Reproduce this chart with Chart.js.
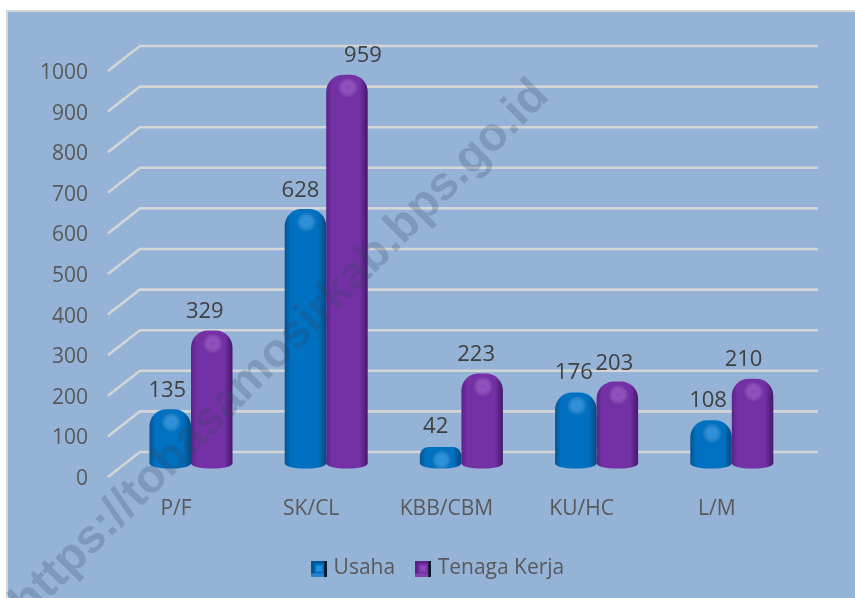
<!DOCTYPE html>
<html><head><meta charset="utf-8">
<script src="https://cdn.jsdelivr.net/npm/chart.js@4"></script>
<style>
html,body{margin:0;padding:0;background:#fff;width:855px;height:598px;overflow:hidden}
#panel{position:absolute;left:6px;top:10px;right:-4px;bottom:-4px;background:#95b3d7;border:2px solid #d4d6d8;box-sizing:border-box}
#c{position:absolute;left:0;top:0}
</style></head><body>
<div id="panel"></div>
<canvas id="c" width="855" height="598"></canvas>
<script>
const categories = ["P/F","SK/CL","KBB/CBM","KU/HC","L/M"];
const usaha = [135,628,42,176,108];
const tenagaKerja = [329,959,223,203,210];
const yTicks = [0,100,200,300,400,500,600,700,800,900,1000];
const watermark = "https://tobasamosirkab.bps.go.id";

const FONT = '"Open Sans"';
const labelNudgeU = [-3,-5,-5,-2,-3];
const labelNudgeT = [-7,16,-6,-3,-9];
const labelRaise = [[18,19],[18,19],[20,19],[20,18],[19,19]];

const palettes = [
  {edgeL:'#05548f',mid:'#0070c0',edgeR:'#044a80',glow:'rgba(70,170,255,0.55)'},
  {edgeL:'#5b2288',mid:'#7431a6',edgeR:'#44186b',glow:'rgba(170,90,215,0.5)'}
];
function barGradient(c, x0, x1, p){
  const g = c.createLinearGradient(x0,0,x1,0);
  g.addColorStop(0,p.edgeL); g.addColorStop(0.14,p.mid);
  g.addColorStop(0.8,p.mid); g.addColorStop(1,p.edgeR);
  return g;
}
function scripted(idx){
  return function(ctx){
    const ch = ctx.chart, xs = ch.scales && ch.scales.x;
    if(!xs || !ch.chartArea) return palettes[idx].mid;
    const cat = xs.width/categories.length, w = cat*0.614/2;
    const cx = xs.getPixelForValue(ctx.dataIndex) + (idx-0.5)*w;
    return barGradient(ch.ctx, cx-w/2, cx+w/2, palettes[idx]);
  };
}
function marker(p){
  const s=16, m=document.createElement('canvas'); m.width=m.height=s;
  const c=m.getContext('2d');
  c.fillStyle=p.edgeL; c.fillRect(0,0,s,s);
  c.fillStyle=p.glow; c.fillRect(0,s-3,s,3);
  c.fillStyle='#0d1a2b'; c.fillRect(s-3,0,3,s);
  c.fillStyle=p.mid; c.fillRect(3,3,s-6,s-6);
  c.fillStyle=p.glow; c.fillRect(5,5,s-10,s-10);
  return m;
}
const wall = {
  id:'wall',
  afterLayout(ch){
    const shift = 40;
    ch.legend.left += shift; ch.legend.right += shift;
  },
  beforeDatasetsDraw(ch){
    const y=ch.scales.y, a=ch.chartArea, c=ch.ctx;
    c.save(); c.strokeStyle='#d3d5d7'; c.lineWidth=2.6; c.lineJoin='miter';
    yTicks.forEach(v=>{
      const p=y.getPixelForValue(v);
      c.beginPath(); c.moveTo(a.left-15.5,p+13); c.lineTo(a.left+16.5,p-12); c.lineTo(a.right+18.5,p-12); c.stroke();
    });
    c.restore();
  }
};
const finish = {
  id:'finish',
  afterDatasetsDraw(ch){
    const c=ch.ctx;
    [0,1].forEach(d=>{
      ch.getDatasetMeta(d).data.forEach(b=>{
        const l=b.x-b.width/2, r=b.x+b.width/2;
        c.save();
        c.fillStyle=barGradient(c,l,r,palettes[d]);
        c.beginPath(); c.moveTo(l,b.base-0.5); c.lineTo(r,b.base-0.5);
        c.quadraticCurveTo(r-2,b.base+4.5,b.x,b.base+4.5);
        c.quadraticCurveTo(l+2,b.base+4.5,l,b.base-0.5); c.fill();
        const gy=b.y+13, gx=b.x+1;
        const g=c.createRadialGradient(gx,gy,1,gx,gy,10);
        g.addColorStop(0,palettes[d].glow); g.addColorStop(1,'rgba(255,255,255,0)');
        c.fillStyle=g; c.beginPath(); c.arc(gx,gy,10,0,Math.PI*2); c.fill();
        c.restore();
      });
    });
    c.save();
    c.font='22px '+FONT; c.fillStyle='#404040'; c.textAlign='center'; c.textBaseline='middle';
    ch.getDatasetMeta(0).data.forEach((b,i)=>c.fillText(usaha[i],b.x+labelNudgeU[i],b.y-labelRaise[i][0]));
    ch.getDatasetMeta(1).data.forEach((b,i)=>c.fillText(tenagaKerja[i],b.x+labelNudgeT[i],b.y-labelRaise[i][1]));
    c.restore();
  },
  afterDraw(ch){
    const c=ch.ctx;
    c.save();
    c.translate(28,620); c.rotate(-45*Math.PI/180);
    c.font='bold 47px "Liberation Sans"'; c.fillStyle='rgba(50,65,95,0.24)';
    c.textAlign='left'; c.textBaseline='alphabetic';
    c.fillText(watermark,0,0);
    c.restore();
  }
};
new Chart(document.getElementById('c'),{
  type:'bar',
  data:{labels:categories,datasets:[
    {label:'Usaha',data:usaha,backgroundColor:scripted(0),borderRadius:{topLeft:17,topRight:17},borderSkipped:'bottom',pointStyle:marker(palettes[0])},
    {label:'Tenaga Kerja',data:tenagaKerja,backgroundColor:scripted(1),borderRadius:{topLeft:17,topRight:17},borderSkipped:'bottom',pointStyle:marker(palettes[1])}
  ]},
  options:{
    responsive:false,animation:false,
    categoryPercentage:0.614,barPercentage:1,
    layout:{padding:{left:0,right:55.6,top:58,bottom:9}},
    scales:{
      x:{grid:{display:false},border:{display:false},
        ticks:{color:'#595959',font:{family:FONT,size:21},padding:24,labelOffset:-15,maxRotation:0,autoSkip:false},
        afterFit(s){s.height=70;}},
      y:{min:0,max:1000,grid:{display:false},border:{display:false},
        ticks:{stepSize:100,autoSkip:false,color:'#595959',font:{family:FONT,size:21},padding:27.4,labelOffset:15,callback:v=>String(v)},
        afterFit(s){s.width=123.4;}}
    },
    plugins:{
      tooltip:{enabled:false},
      legend:{position:'bottom',labels:{color:'#595959',font:{family:FONT,size:21},usePointStyle:true,pointStyleWidth:8,padding:24}}
    }
  },
  plugins:[wall,finish]
});
</script>
</body></html>
